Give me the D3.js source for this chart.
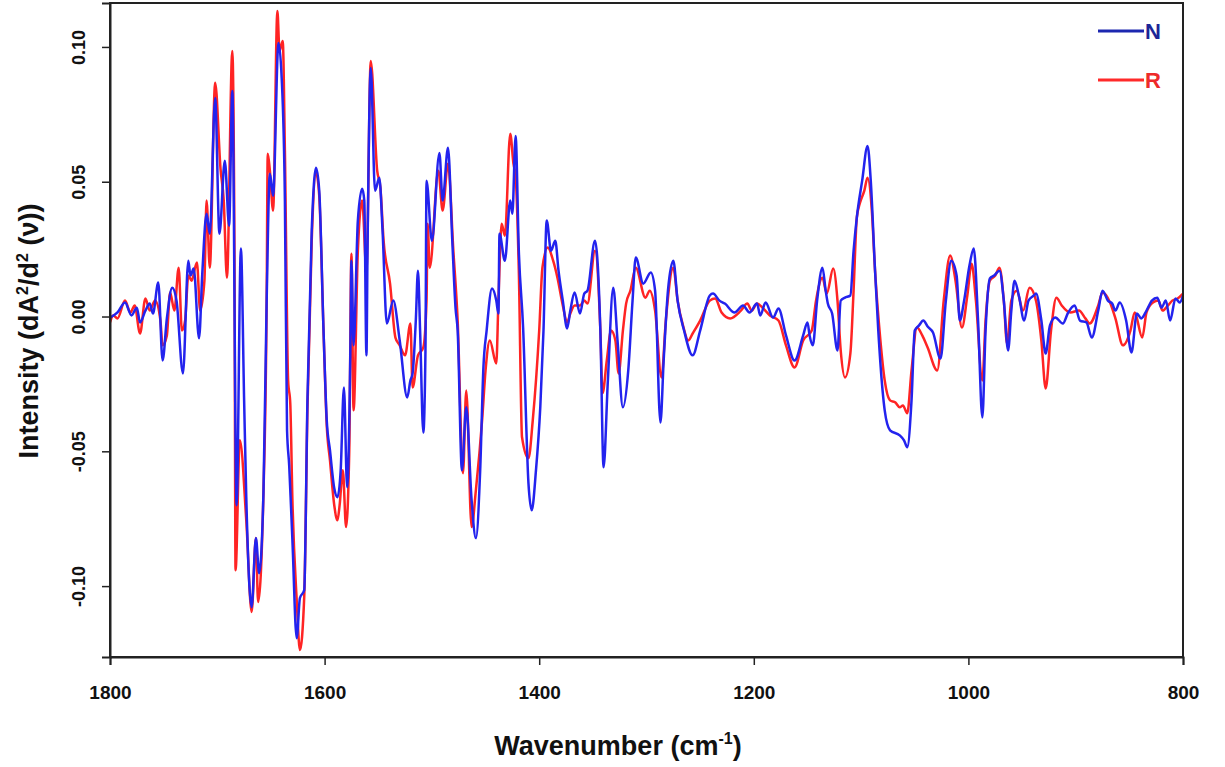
<!DOCTYPE html>
<html>
<head>
<meta charset="utf-8">
<script src="https://cdn.jsdelivr.net/npm/d3@7"></script>
<style>
  html, body { margin: 0; padding: 0; background: #fff; }
  svg text { font-family: "Liberation Sans", Arial, sans-serif; font-weight: bold; }
</style>
</head>
<body>
<svg id="chart" width="1225" height="767"></svg>
<script>
// ---- Data ----
const xTicks = [1800, 1600, 1400, 1200, 1000, 800];
const yTicks = [-0.10, -0.05, 0.00, 0.05, 0.10];
const seriesNames = ["N", "R"];

const waveN = [1800,1793,1786,1780,1775,1772,1767,1763,1760,1755,1751,1747,1742,1738,1732,1727,1725,1722,1717,1714,1710,1707,1702,1698,1693,1689,1686,1682,1678,1675,1673,1668,1664,1661,1657,1654,1651,1648,1643,1640,1637,1635,1633,1630,1626,1623,1619,1616,1612,1608,1605,1601,1598,1595,1591,1588,1585,1582,1579,1576,1575,1573,1569,1565,1563,1561,1560,1557,1553,1549,1546,1542,1536,1530,1523,1520,1518,1515,1513,1511,1508,1506,1505,1500,1493,1490,1485,1481,1478,1476,1472,1468,1463,1459,1455,1452,1449,1444,1440,1438,1437,1432,1427,1425,1422,1419,1415,1410,1407,1403,1399,1396,1393,1389,1385,1382,1378,1374,1371,1367,1362,1358,1355,1348,1343,1340,1336,1331,1327,1322,1317,1313,1310,1303,1296,1292,1287,1284,1280,1275,1271,1265,1257,1250,1241,1238,1232,1227,1218,1210,1204,1197,1194,1189,1182,1177,1170,1162,1154,1150,1148,1145,1141,1136,1133,1131,1127,1122,1119,1115,1110,1107,1104,1099,1094,1091,1087,1084,1080,1078,1073,1064,1060,1057,1053,1050,1046,1042,1038,1033,1026,1021,1016,1011,1008,1004,999,995,991,987,984,980,976,971,967,963,960,957,953,948,944,939,937,932,928,924,919,912,907,901,896,890,885,879,875,870,866,863,859,853,848,843,839,834,829,824,820,816,812,807,803,800];
const intensityN = [-0.0004,0.0015,0.0052,0.0004,0.0033,-0.0022,0.0022,0.0048,0.0011,0.0126,-0.0163,-0.0007,0.0107,0.0059,-0.0211,0.0207,0.0152,0.0178,-0.0081,0.0159,0.0381,0.0307,0.0811,0.0307,0.0578,0.0337,0.0837,-0.0700,0.0252,-0.0311,-0.0670,-0.1078,-0.0822,-0.0952,-0.0656,0.0059,0.0530,0.0448,0.1015,0.0885,0.0430,-0.0422,-0.0552,-0.0830,-0.1193,-0.1044,-0.1015,-0.0311,0.0319,0.0552,0.0467,-0.0052,-0.0385,-0.0496,-0.0637,-0.0670,-0.0570,-0.0263,-0.0633,-0.0126,0.0207,-0.0107,0.0356,0.0474,0.0430,-0.0144,0.0244,0.0922,0.0467,0.0515,0.0319,-0.0026,0.0059,-0.0089,-0.0300,-0.0237,-0.0211,-0.0015,0.0170,-0.0052,-0.0430,-0.0126,0.0504,0.0281,0.0607,0.0430,0.0626,0.0281,0.0033,-0.0052,-0.0570,-0.0337,-0.0681,-0.0822,-0.0570,-0.0189,-0.0052,0.0104,0.0059,0.0011,0.0307,0.0207,0.0430,0.0381,0.0670,0.0244,-0.0041,-0.0619,-0.0719,-0.0570,-0.0337,-0.0052,0.0356,0.0244,0.0281,0.0170,0.0059,-0.0044,0.0022,0.0089,0.0011,0.0085,0.0096,0.0281,-0.0052,-0.0559,-0.0237,0.0107,-0.0089,-0.0337,-0.0200,0.0059,0.0219,0.0122,0.0163,0.0096,-0.0393,-0.0163,0.0096,0.0207,0.0059,-0.0052,-0.0144,-0.0052,0.0078,0.0085,0.0059,0.0048,0.0015,0.0041,0.0015,0.0048,0.0004,0.0052,-0.0004,0.0030,-0.0070,-0.0163,-0.0070,-0.0022,-0.0070,-0.0107,0.0059,0.0181,0.0096,0.0048,0.0011,-0.0126,0.0059,0.0070,0.0078,0.0244,0.0367,0.0504,0.0633,0.0504,0.0170,-0.0052,-0.0274,-0.0348,-0.0422,-0.0441,-0.0459,-0.0485,-0.0311,-0.0052,-0.0033,-0.0015,-0.0037,-0.0059,-0.0156,0.0059,0.0207,0.0152,-0.0015,0.0059,0.0189,0.0252,-0.0015,-0.0374,-0.0052,0.0141,0.0152,0.0170,0.0059,-0.0126,0.0022,0.0133,0.0078,-0.0015,0.0059,0.0078,0.0085,-0.0015,-0.0137,-0.0033,-0.0004,-0.0026,0.0015,0.0041,-0.0015,-0.0022,-0.0078,0.0022,0.0096,0.0059,0.0048,0.0022,0.0052,-0.0015,-0.0133,0.0011,-0.0007,0.0022,0.0059,0.0070,0.0033,0.0059,-0.0015,0.0067,0.0052,0.0078];

const waveR = [1800,1797,1793,1786,1781,1777,1772,1767,1763,1758,1753,1751,1747,1744,1740,1736,1733,1730,1727,1724,1719,1716,1712,1710,1707,1702,1697,1694,1691,1686,1684,1683,1679,1673,1668,1664,1662,1657,1654,1653,1651,1648,1644,1642,1639,1637,1634,1632,1630,1626,1623,1619,1616,1612,1608,1605,1601,1598,1595,1591,1588,1586,1583,1580,1577,1575,1573,1569,1565,1561,1557,1551,1548,1545,1539,1534,1530,1525,1520,1518,1513,1508,1505,1504,1502,1494,1490,1485,1480,1476,1471,1468,1463,1459,1453,1450,1446,1440,1438,1435,1432,1427,1424,1422,1419,1416,1410,1406,1400,1397,1392,1387,1383,1378,1374,1371,1367,1362,1358,1355,1348,1343,1341,1337,1333,1329,1326,1322,1319,1315,1310,1301,1297,1292,1286,1282,1275,1271,1266,1261,1257,1250,1241,1236,1230,1222,1212,1206,1202,1197,1192,1185,1177,1170,1162,1154,1146,1142,1136,1132,1126,1122,1119,1115,1110,1107,1104,1101,1097,1094,1090,1087,1082,1078,1073,1068,1064,1061,1057,1053,1048,1043,1038,1029,1023,1017,1012,1006,1001,997,993,987,984,980,975,971,967,964,960,955,949,943,937,932,928,923,918,913,905,897,891,887,879,875,868,863,856,849,845,838,834,828,823,819,814,810,805,800];
const intensityR = [-0.0022,0.0004,-0.0007,0.0059,0.0015,0.0041,-0.0063,0.0067,0.0022,0.0059,-0.0015,-0.0107,-0.0070,0.0089,0.0022,0.0181,-0.0052,-0.0015,0.0152,0.0133,0.0200,0.0022,0.0133,0.0430,0.0181,0.0867,0.0548,0.0430,0.0144,0.0985,0.0244,-0.0941,-0.0459,-0.0756,-0.1096,-0.0822,-0.1059,-0.0656,0.0059,0.0604,0.0541,0.0393,0.1133,0.0985,0.1022,0.0615,-0.0237,-0.0322,-0.0681,-0.1052,-0.1237,-0.1041,-0.0348,0.0281,0.0533,0.0448,-0.0052,-0.0404,-0.0533,-0.0700,-0.0756,-0.0700,-0.0570,-0.0781,-0.0496,0.0233,-0.0348,0.0244,0.0430,0.0170,0.0948,0.0541,0.0478,0.0281,0.0122,-0.0078,-0.0107,-0.0144,-0.0026,-0.0263,-0.0144,-0.0115,0.0059,0.0344,0.0181,0.0541,0.0393,0.0567,0.0244,-0.0015,-0.0581,-0.0274,-0.0781,-0.0644,-0.0374,-0.0200,-0.0089,-0.0174,0.0059,0.0344,0.0300,0.0678,0.0567,0.0522,0.0170,-0.0448,-0.0526,-0.0385,-0.0052,0.0181,0.0256,0.0207,0.0144,0.0041,-0.0022,0.0011,0.0041,0.0041,0.0059,0.0048,0.0244,-0.0052,-0.0285,-0.0163,-0.0052,-0.0089,-0.0211,-0.0052,0.0048,0.0096,0.0181,0.0070,0.0096,0.0022,-0.0226,-0.0015,0.0181,0.0059,-0.0033,-0.0089,-0.0063,-0.0015,0.0059,0.0067,0.0015,-0.0007,0.0022,0.0048,0.0022,0.0048,0.0033,0.0004,-0.0015,-0.0107,-0.0189,-0.0089,-0.0052,0.0059,0.0144,0.0085,0.0178,0.0059,-0.0126,-0.0226,-0.0137,0.0096,0.0367,0.0422,0.0467,0.0515,0.0393,0.0170,-0.0089,-0.0237,-0.0311,-0.0319,-0.0337,-0.0330,-0.0359,-0.0200,-0.0041,-0.0070,-0.0115,-0.0200,0.0059,0.0226,0.0133,-0.0041,0.0078,0.0196,0.0059,-0.0237,-0.0015,0.0133,0.0152,0.0181,0.0059,-0.0100,0.0059,0.0096,0.0022,0.0107,0.0059,-0.0089,-0.0267,-0.0052,0.0070,0.0041,0.0015,0.0022,-0.0007,-0.0026,0.0041,0.0089,0.0052,-0.0007,-0.0107,-0.0052,0.0015,-0.0078,0.0015,0.0052,0.0059,0.0022,0.0041,0.0059,0.0067,0.0085];

// ---- Layout ----
const svg = d3.select("#chart");
const mL = 110, mR = 1183, mT = 3, mB = 657;

const x = d3.scaleLinear().domain([1800, 800]).range([mL, mR]);
const y = d3.scaleLinear().domain([-0.1263, 0.1163]).range([mB, mT]);

const lineColor = { N: "#2323ee", R: "#ff2424" };

svg.append("defs").append("clipPath").attr("id", "clip")
  .append("rect").attr("x", mL).attr("y", mT).attr("width", mR - mL).attr("height", mB - mT);

const line = d3.line()
  .x(d => x(d[0])).y(d => y(d[1]))
  .curve(d3.curveMonotoneX);

const dataR = d3.zip(waveR, intensityR);
const dataN = d3.zip(waveN, intensityN);

const plot = svg.append("g").attr("clip-path", "url(#clip)");
plot.append("path").datum(dataR).attr("d", line)
  .attr("fill", "none").attr("stroke", lineColor.R).attr("stroke-width", 2.5).attr("stroke-linejoin", "round");
plot.append("path").datum(dataN).attr("d", line)
  .attr("fill", "none").attr("stroke", lineColor.N).attr("stroke-width", 2.5).attr("stroke-linejoin", "round");

// frame
svg.append("rect").attr("x", mL).attr("y", mT).attr("width", mR - mL).attr("height", mB - mT)
  .attr("fill", "none").attr("stroke", "#222").attr("stroke-width", 2);

const fmtY = d => d3.format(".2f")(d).replace("−", "-");

// x axis
const xAxis = svg.append("g").attr("transform", `translate(0,${mB})`)
  .call(d3.axisBottom(x).tickValues(xTicks).tickFormat(d3.format("d")).tickSize(8).tickPadding(21));
xAxis.select(".domain").attr("stroke", "#222").attr("stroke-width", 2);
xAxis.selectAll(".tick line").attr("stroke", "#222").attr("stroke-width", 1.5);
xAxis.selectAll(".tick text").attr("font-size", 19).attr("fill", "#111")
  .attr("font-family", "'Liberation Sans', Arial, sans-serif").attr("font-weight", "bold");

// y axis
const yAxis = svg.append("g").attr("transform", `translate(${mL},0)`)
  .call(d3.axisLeft(y).tickValues(yTicks).tickFormat(fmtY).tickSize(8));
yAxis.select(".domain").attr("stroke", "#222").attr("stroke-width", 2);
yAxis.selectAll(".tick line").attr("stroke", "#222").attr("stroke-width", 1.5);
yAxis.selectAll(".tick text")
  .attr("font-size", 18).attr("fill", "#111")
  .attr("font-family", "'Liberation Sans', Arial, sans-serif").attr("font-weight", "bold")
  .attr("text-anchor", "middle").attr("x", null).attr("dy", null)
  .attr("transform", "translate(-30,0) rotate(-90)")
  .attr("dominant-baseline", "middle");

// axis titles
const xt = svg.append("text").attr("x", 618).attr("y", 755).attr("text-anchor", "middle")
  .attr("font-size", 27).attr("fill", "#111");
xt.append("tspan").text("Wavenumber (cm");
xt.append("tspan").attr("font-size", 16).attr("dy", -11).text("-1");
xt.append("tspan").attr("dy", 11).text(")");

const yt = svg.append("text").attr("transform", "translate(38,331) rotate(-90)").attr("text-anchor", "middle")
  .attr("font-size", 27).attr("fill", "#111");
yt.append("tspan").text("Intensity (dA");
yt.append("tspan").attr("font-size", 16).attr("dy", -10).text("2");
yt.append("tspan").attr("dy", 10).text("/d");
yt.append("tspan").attr("font-size", 16).attr("dy", -10).text("2");
yt.append("tspan").attr("dy", 10).text(" (ν))");

// legend
const legend = [
  { name: seriesNames[0], line: "#1c27b0", text: "#1c2596", yy: 31 },
  { name: seriesNames[1], line: "#ff2a2a", text: "#ee2a2a", yy: 80 }
];
const lg = svg.append("g");
lg.selectAll("line").data(legend).join("line")
  .attr("x1", 1098).attr("x2", 1144).attr("y1", d => d.yy).attr("y2", d => d.yy)
  .attr("stroke", d => d.line).attr("stroke-width", 3);
lg.selectAll("text").data(legend).join("text")
  .attr("x", 1145).attr("y", d => d.yy + 8).attr("font-size", 22)
  .attr("fill", d => d.text).text(d => d.name);
</script>
</body>
</html>
